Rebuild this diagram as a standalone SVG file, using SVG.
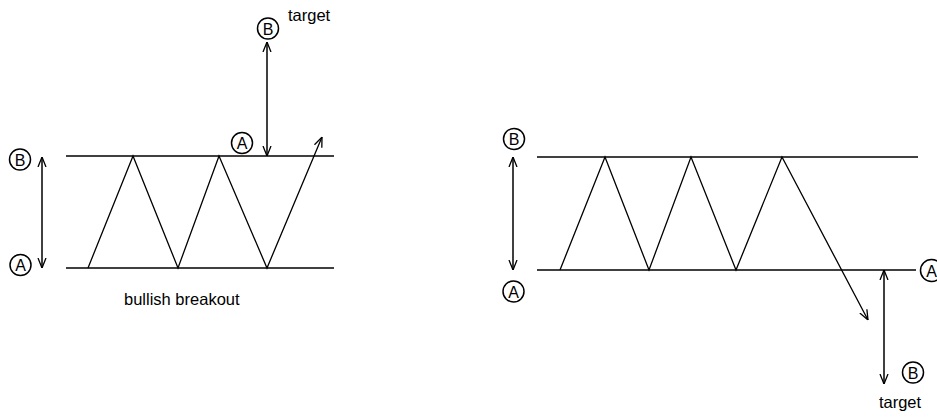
<svg xmlns="http://www.w3.org/2000/svg" width="937" height="418" viewBox="0 0 937 418">
<style>
.ln{stroke:#000;stroke-width:1.5;fill:none}
.zz{stroke:#000;stroke-width:1.3;fill:none;stroke-linejoin:miter;marker-end:url(#oa)}
.ar{stroke:#000;stroke-width:1.5;fill:none;marker-start:url(#oa);marker-end:url(#oa)}
.c{fill:#fff;stroke:#000;stroke-width:1.5}
.cl{font-family:"Liberation Sans",Arial,sans-serif;font-size:16px;text-anchor:middle;dominant-baseline:central}
.t{font-family:"Liberation Sans",Arial,sans-serif;font-size:16.5px}
</style>
<defs>
<marker id="oa" viewBox="0 0 10 10" refX="10" refY="5" markerWidth="10" markerHeight="10" markerUnits="userSpaceOnUse" orient="auto-start-reverse">
<polyline points="0,1 10,5 0,9" fill="none" stroke="#000" stroke-width="1.3"/>
</marker>
</defs>
<g id="left-chart">
<line class="ln" x1="66" y1="156" x2="334" y2="156"/>
<line class="ln" x1="66" y1="268" x2="334" y2="268"/>
<g id="connectors-left">
<polyline class="zz" points="88,268 133,156 178,268 219,156 267,268 322,137"/>
<line class="ar" x1="42" y1="157" x2="42" y2="268"/>
<line class="ar" x1="267" y1="42" x2="267" y2="156"/>
</g>
<g id="left-B"><circle class="c" cx="20" cy="159.5" r="10.5"/><text class="cl" x="20" y="160">B</text></g>
<g id="left-A"><circle class="c" cx="20.5" cy="265" r="10.5"/><text class="cl" x="20.5" y="265.5">A</text></g>
<g id="left-A-top"><circle class="c" cx="242" cy="143" r="10.5"/><text class="cl" x="242" y="143.5">A</text></g>
<g id="left-B-target"><circle class="c" cx="268" cy="28.5" r="10.5"/><text class="cl" x="268" y="29">B</text></g>
<text class="t" x="288" y="21">target</text>
<text class="t" x="124" y="305" font-size="17">bullish breakout</text>
</g>
<g id="right-chart">
<line class="ln" x1="537" y1="157" x2="918" y2="157"/>
<line class="ln" x1="537" y1="270" x2="916" y2="270"/>
<g id="connectors-right">
<polyline class="zz" points="560,270 605,157 649,270 691,157 736,270 782,157 868,320"/>
<line class="ar" x1="513" y1="157" x2="513" y2="270"/>
<line class="ar" x1="884" y1="270" x2="884" y2="384"/>
</g>
<g id="right-B"><circle class="c" cx="514" cy="139" r="10.5"/><text class="cl" x="514" y="139.5">B</text></g>
<g id="right-A"><circle class="c" cx="513.5" cy="291.5" r="10.5"/><text class="cl" x="513.5" y="292">A</text></g>
<g id="right-A-edge"><circle class="c" cx="931.5" cy="270.5" r="11"/><text class="cl" x="931.5" y="271">A</text></g>
<g id="right-B-target"><circle class="c" cx="913" cy="372.5" r="10.5"/><text class="cl" x="913" y="373">B</text></g>
<text class="t" x="900" y="408" text-anchor="middle">target</text>
</g>
</svg>
